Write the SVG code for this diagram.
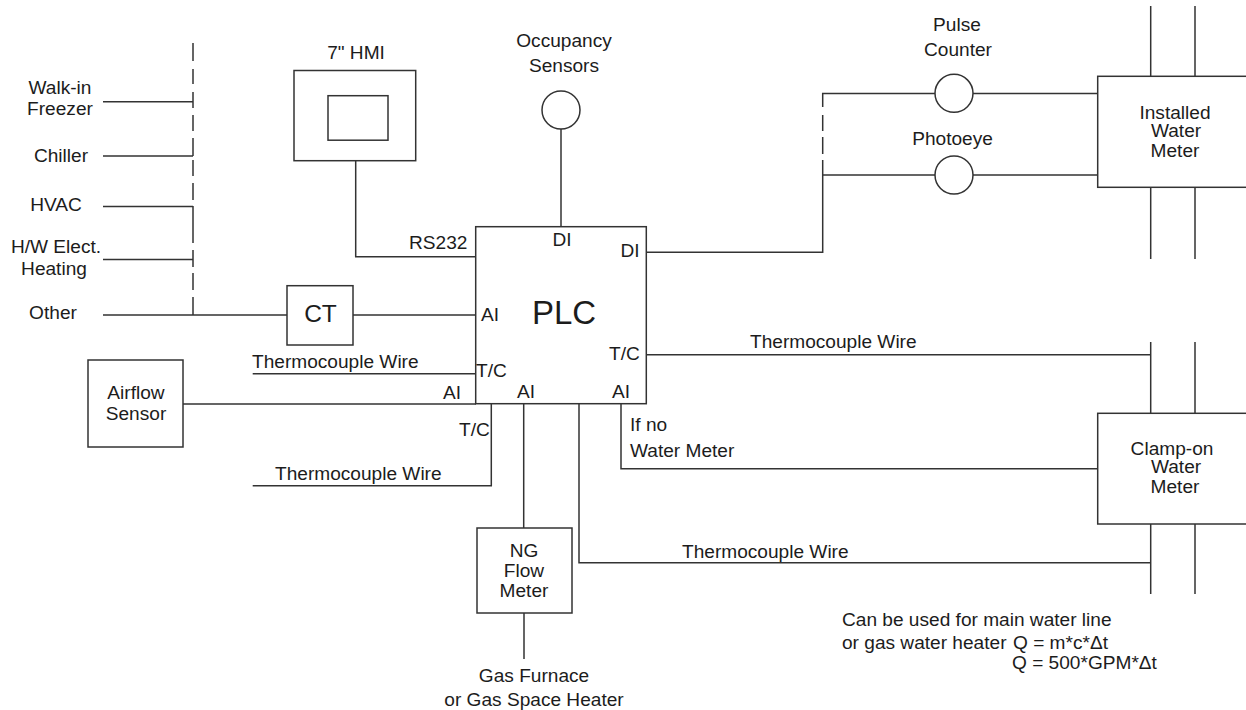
<svg xmlns="http://www.w3.org/2000/svg" width="1246" height="710" viewBox="0 0 1246 710">
<style>
text{font-family:"Liberation Sans",Arial,sans-serif;font-size:19.1px;fill:#1c1c1c}
.m{text-anchor:middle}
.b{fill:#fff;stroke:#333;stroke-width:1.5}
.l{fill:none;stroke:#333;stroke-width:1.5}
</style>
<rect width="1246" height="710" fill="#fff"/>
<g id="connectors">
<path class="l" d="M193 43V61M193 69V84M193 92V108M193 115V131M193 138V156M193 160V176M193 183V200M193 206V243M193 250V267M193 273V290M193 297V315"/>
<path class="l" d="M103 101.7H193M103 156H193M103 206.5H193M103 259.5H193M103 315H287M353 315H476"/>
<path class="l" d="M355.7 160.7V256.7H476"/>
<path class="l" d="M561 129V227"/>
<path class="l" d="M646 252.3H822.7V160M822.7 154V137M822.7 131V115M822.7 107V93.5H935M973 93.5H1098M822.7 175H935M973 175H1098"/>
<path class="l" d="M1150.7 6V76M1195 6V76M1150.7 187V259M1195 187V259M1150.7 342V413M1195 342V413M1150.7 524V594M1195 524V594"/>
<path class="l" d="M646 354.7H1150.7M621 404V468.7H1098M579 404V562.7H1150.7M523.7 404V528M524 613V659"/>
<path class="l" d="M491.3 404V485.7H252.7M252.7 373.7H476M183 404H476"/>
</g>
<g id="hmi"><rect class="b" x="294" y="70.5" width="121.7" height="90.2"/><rect class="b" x="328" y="95.7" width="60" height="44.5"/><text class="m" x="356" y="59">7" HMI</text></g>
<g id="ct"><rect class="b" x="287" y="285.7" width="66" height="59.3"/><text class="m" x="320.500" y="322" style="font-size:24.5px">CT</text></g>
<g id="plc"><rect class="b" x="475.700" y="226.700" width="170.600" height="177"/><text class="m" x="564" y="324" style="font-size:33px">PLC</text>
<text class="m" x="562" y="246">DI</text><text class="m" x="630" y="257">DI</text><text x="481" y="321">AI</text><text x="476" y="377">T/C</text><text x="609" y="360">T/C</text><text x="517" y="398">AI</text><text x="612" y="398">AI</text></g>
<g id="occupancy"><circle class="b" cx="561" cy="110" r="19"/><text class="m" x="564" y="47">Occupancy</text><text class="m" x="564" y="72">Sensors</text></g>
<g id="pulse"><circle class="b" cx="954" cy="93.300" r="19"/><text class="m" x="957" y="31">Pulse</text><text class="m" x="958" y="56">Counter</text></g>
<g id="photoeye"><circle class="b" cx="954" cy="175" r="19"/><text class="m" x="952.500" y="145">Photoeye</text></g>
<g id="installed"><rect class="b" x="1097.700" y="76.300" width="160" height="111"/><text class="m" x="1175" y="119">Installed</text><text class="m" x="1176" y="137">Water</text><text class="m" x="1175" y="157">Meter</text></g>
<g id="clampon"><rect class="b" x="1097.700" y="413.300" width="160" height="110.700"/><text class="m" x="1172" y="455">Clamp-on</text><text class="m" x="1176" y="473">Water</text><text class="m" x="1175" y="493">Meter</text></g>
<g id="airflow"><rect class="b" x="88" y="360" width="95" height="87"/><text class="m" x="136" y="399">Airflow</text><text class="m" x="136" y="420">Sensor</text></g>
<g id="ngflow"><rect class="b" x="477" y="528" width="95" height="85"/><text class="m" x="524" y="557">NG</text><text class="m" x="524" y="577">Flow</text><text class="m" x="524" y="597">Meter</text></g>
<g id="labels">
<text class="m" x="60" y="94">Walk-in</text><text class="m" x="60" y="115">Freezer</text><text class="m" x="61" y="162">Chiller</text><text class="m" x="56" y="211">HVAC</text><text class="m" x="56" y="253">H/W Elect.</text><text class="m" x="54" y="275">Heating</text><text class="m" x="53" y="319">Other</text>
<text x="409" y="249">RS232</text>
<text x="252" y="368">Thermocouple Wire</text><text x="443" y="399">AI</text><text x="459" y="436">T/C</text><text x="275" y="480">Thermocouple Wire</text>
<text x="630" y="431">If no</text><text x="630" y="457">Water Meter</text>
<text x="750" y="348">Thermocouple Wire</text><text x="682" y="558">Thermocouple Wire</text>
<text x="842" y="626">Can be used for main water line</text><text x="842" y="649">or gas water heater</text><text x="1013" y="649">Q = m*c*Δt</text><text x="1012" y="669">Q = 500*GPM*Δt</text>
<text class="m" x="534" y="682">Gas Furnace</text><text class="m" x="534" y="706">or Gas Space Heater</text>
</g>
</svg>
